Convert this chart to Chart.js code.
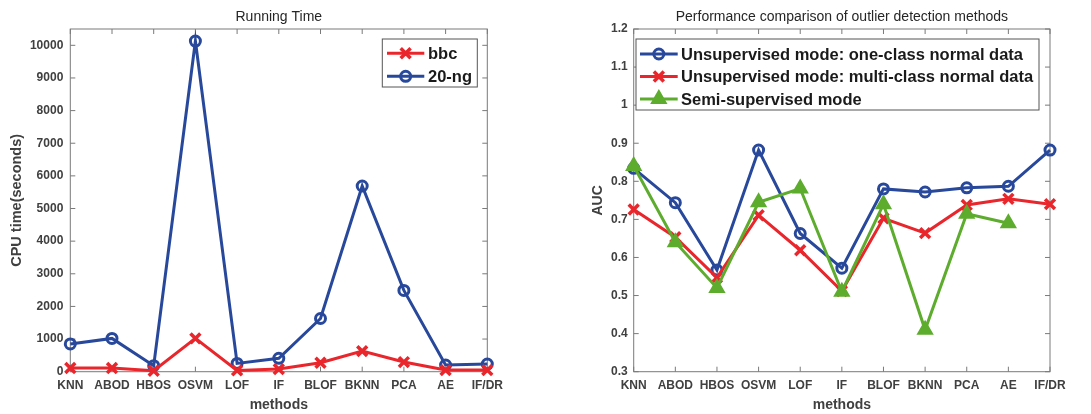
<!DOCTYPE html>
<html>
<head>
<meta charset="utf-8">
<title>Running time and AUC</title>
<script src="https://cdn.jsdelivr.net/npm/chart.js@4.4.1/dist/chart.umd.min.js"></script>
<style>
  body { margin: 0; background: #fff; }
  #wrap { position: relative; width: 1091px; height: 414px; }
  canvas { position: absolute; top: 0; }
  #timeChart { left: 0; }
  #aucChart { left: 546px; }
</style>
</head>
<body>
<div id="wrap">
  <canvas id="timeChart" width="545" height="414"></canvas>
  <canvas id="aucChart" width="545" height="414"></canvas>
</div>
<script>
"use strict";

//Metoderna på x-axeln (samma i båda diagrammen)
const methods = ['KNN', 'ABOD', 'HBOS', 'OSVM', 'LOF', 'IF', 'BLOF', 'BKNN', 'PCA', 'AE', 'IF/DR'];

//Körtid i sekunder
const bbcTime = [113, 115, 30, 1020, 40, 80, 275, 630, 295, 50, 50];
const ngTime = [850, 1020, 185, 10130, 255, 410, 1630, 5690, 2490, 205, 235];
const timeTicks = [0, 1000, 2000, 3000, 4000, 5000, 6000, 7000, 8000, 9000, 10000];

//AUC för de tre lägena
const aucOneClass = [0.834, 0.744, 0.567, 0.882, 0.663, 0.572, 0.780, 0.772, 0.783, 0.787, 0.882];
const aucMultiClass = [0.726, 0.653, 0.547, 0.711, 0.619, 0.512, 0.703, 0.664, 0.738, 0.754, 0.740];
const aucSemi = [0.840, 0.640, 0.520, 0.745, 0.781, 0.510, 0.740, 0.410, 0.715, 0.690, null];
const aucTicks = [0.3, 0.4, 0.5, 0.6, 0.7, 0.8, 0.9, 1.0, 1.1, 1.2];
const aucTickLabels = ['0.3', '0.4', '0.5', '0.6', '0.7', '0.8', '0.9', '1', '1.1', '1.2'];

const FONT = '"Liberation Sans", Arial, Helvetica, sans-serif';
const BLUE = '#28489b';
const RED = '#e8262b';
const GREEN = '#5dac2e';
const AXIS = '#7a7a7a';
const TEXT = '#404040';

Chart.defaults.font.family = FONT;
Chart.defaults.color = TEXT;

//Ram runt ritytan och ticks inåt på alla fyra sidor
const boxPlugin = {
  id: 'box',
  beforeDatasetsDraw(chart) {
    const { ctx, chartArea: a, scales } = chart;
    const x = scales.x, y = scales.y;
    ctx.save();
    ctx.strokeStyle = AXIS;
    ctx.lineWidth = 1;
    ctx.strokeRect(a.left, a.top, a.right - a.left, a.bottom - a.top);
    ctx.beginPath();
    x.ticks.forEach((t, i) => {
      const px = x.getPixelForTick(i);
      ctx.moveTo(px, a.bottom); ctx.lineTo(px, a.bottom - 5);
      ctx.moveTo(px, a.top); ctx.lineTo(px, a.top + 5);
    });
    y.ticks.forEach((t, i) => {
      const py = y.getPixelForTick(i);
      ctx.moveTo(a.left, py); ctx.lineTo(a.left + 5, py);
      ctx.moveTo(a.right, py); ctx.lineTo(a.right - 5, py);
    });
    ctx.stroke();
    ctx.restore();
  }
};

//Rubrik centrerad över ritytan
const titlePlugin = {
  id: 'plotTitle',
  afterDraw(chart, args, opts) {
    const { ctx, chartArea: a } = chart;
    ctx.save();
    ctx.font = '14px ' + FONT;
    ctx.fillStyle = '#262626';
    ctx.textAlign = 'center';
    ctx.textBaseline = 'middle';
    ctx.fillText(opts.text, (a.left + a.right) / 2, 17);
    ctx.restore();
  }
};

//Förklaring med ram inne i ritytan
const legendPlugin = {
  id: 'boxLegend',
  afterDraw(chart, args, o) {
    const { ctx, chartArea: a } = chart;
    const left = o.anchor === 'right' ? a.right - o.dx - o.w : a.left + o.dx;
    const top = a.top + o.dy;
    ctx.save();
    ctx.fillStyle = '#fff';
    ctx.fillRect(left, top, o.w, o.h);
    ctx.strokeStyle = '#555';
    ctx.lineWidth = 1;
    ctx.strokeRect(left, top, o.w, o.h);
    chart.data.datasets.forEach((ds, i) => {
      const cy = top + o.first + i * o.rowH;
      const x0 = left + o.lineStart;
      ctx.strokeStyle = ds.borderColor;
      ctx.lineWidth = ds.borderWidth;
      ctx.beginPath();
      ctx.moveTo(x0, cy);
      ctx.lineTo(x0 + o.lineLen, cy);
      ctx.stroke();
      ctx.lineWidth = ds.pointBorderWidth;
      ctx.fillStyle = ds.backgroundColor;
      Chart.helpers.drawPoint(ctx, {
        pointStyle: ds.pointStyle,
        radius: ds.pointRadius,
        borderWidth: ds.pointBorderWidth,
        rotation: 0
      }, x0 + o.lineLen / 2, cy);
      ctx.fillStyle = '#1a1a1a';
      ctx.font = 'bold ' + o.fontSize + 'px ' + FONT;
      ctx.textAlign = 'left';
      ctx.textBaseline = 'middle';
      ctx.fillText(ds.label, left + o.textStart, cy + 1);
    });
    ctx.restore();
  }
};

function xScale() {
  return {
    type: 'category',
    offset: false,
    grid: { display: false, drawTicks: false },
    border: { display: false },
    ticks: { font: { size: 12, weight: 'bold' }, padding: 7, maxRotation: 0, autoSkip: false },
    title: { display: true, text: 'methods', font: { size: 14, weight: 'bold' }, padding: { top: 0, bottom: 0.6 } },
    afterFit(s) { s.height = 42.3; }
  };
}

//Diagram över körtid
function drawTimeChart() {
  const ctx = document.getElementById('timeChart');

  new Chart(ctx, {
    type: 'line',
    data: {
      labels: methods,
      datasets: [{
        label: 'bbc',
        data: bbcTime,
        borderColor: RED,
        backgroundColor: RED,
        borderWidth: 3,
        pointStyle: 'crossRot',
        pointRadius: 7,
        pointBorderWidth: 3.5,
        clip: false
      }, {
        label: '20-ng',
        data: ngTime,
        borderColor: BLUE,
        backgroundColor: 'rgba(0,0,0,0)',
        borderWidth: 3,
        pointStyle: 'circle',
        pointRadius: 5,
        pointBorderWidth: 3,
        clip: false
      }]
    },
    options: {
      responsive: false,
      animation: false,
      layout: { padding: { top: 29, right: 57.7, bottom: 0, left: 0 } },
      scales: {
        x: xScale(),
        y: {
          min: 0,
          max: 10500,
          grid: { display: false, drawTicks: false },
          border: { display: false },
          afterBuildTicks(s) { s.ticks = timeTicks.map(v => ({ value: v })); },
          ticks: { font: { size: 12, weight: 'bold' }, padding: 7, callback: v => String(v) },
          title: { display: true, text: 'CPU time(seconds)', font: { size: 14.5, weight: 'bold' }, padding: { top: 8.3, bottom: 0 } },
          afterFit(s) { s.width = 70.3; }
        }
      },
      plugins: {
        legend: { display: false },
        tooltip: { enabled: false },
        plotTitle: { text: 'Running Time' },
        boxLegend: { anchor: 'right', dx: 10, dy: 10, w: 95, h: 48, first: 14.3, rowH: 23, lineStart: 4.7, lineLen: 37.3, textStart: 45.7, fontSize: 16.5 }
      }
    },
    plugins: [boxPlugin, titlePlugin, legendPlugin]
  });
}

//Diagram över AUC
function drawAucChart() {
  const ctx = document.getElementById('aucChart');

  new Chart(ctx, {
    type: 'line',
    data: {
      labels: methods,
      datasets: [{
        label: 'Unsupervised mode: one-class normal data',
        data: aucOneClass,
        borderColor: BLUE,
        backgroundColor: 'rgba(0,0,0,0)',
        borderWidth: 3,
        pointStyle: 'circle',
        pointRadius: 5,
        pointBorderWidth: 3,
        order: 3,
        clip: false
      }, {
        label: 'Unsupervised mode: multi-class normal data',
        data: aucMultiClass,
        borderColor: RED,
        backgroundColor: RED,
        borderWidth: 3,
        pointStyle: 'crossRot',
        pointRadius: 7,
        pointBorderWidth: 3.5,
        order: 2,
        clip: false
      }, {
        label: 'Semi-supervised mode',
        data: aucSemi,
        borderColor: GREEN,
        backgroundColor: GREEN,
        borderWidth: 3,
        pointStyle: 'triangle',
        pointRadius: 8,
        pointBorderWidth: 2,
        order: 1,
        clip: false
      }]
    },
    options: {
      responsive: false,
      animation: false,
      layout: { padding: { top: 29, right: 41, bottom: 0, left: 0 } },
      scales: {
        x: xScale(),
        y: {
          min: 0.3,
          max: 1.2,
          grid: { display: false, drawTicks: false },
          border: { display: false },
          afterBuildTicks(s) { s.ticks = aucTicks.map(v => ({ value: v })); },
          ticks: { font: { size: 12, weight: 'bold' }, padding: 6, callback: (v, i) => aucTickLabels[i] },
          title: { display: true, text: 'AUC', font: { size: 14, weight: 'bold' }, padding: { top: 44, bottom: 0 } },
          afterFit(s) { s.width = 87.7; }
        }
      },
      plugins: {
        legend: { display: false },
        tooltip: { enabled: false },
        plotTitle: { text: 'Performance comparison of outlier detection methods' },
        boxLegend: { anchor: 'left', dx: 2.3, dy: 10, w: 403, h: 71, first: 15, rowH: 22.5, lineStart: 4, lineLen: 37.7, textStart: 45, fontSize: 16.5 }
      }
    },
    plugins: [boxPlugin, titlePlugin, legendPlugin]
  });
}

drawTimeChart();
drawAucChart();
</script>
</body>
</html>
